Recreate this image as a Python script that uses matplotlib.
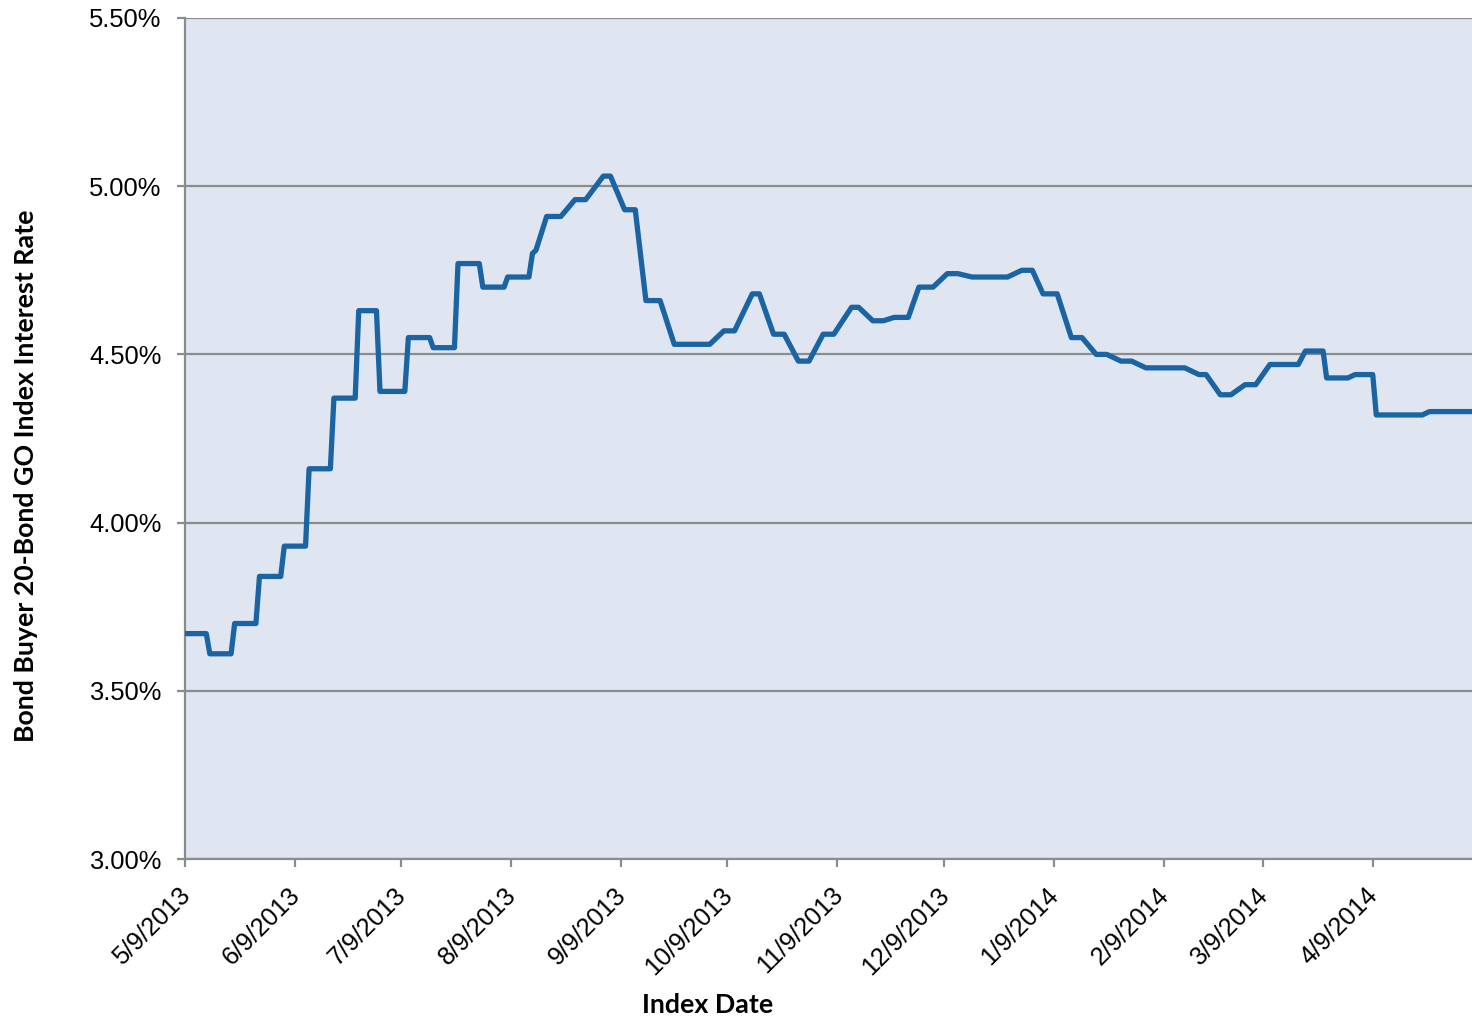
import matplotlib
matplotlib.use("Agg")
import matplotlib.pyplot as plt
import matplotlib.transforms as mtransforms
import pandas as pd

# Bond Buyer 20-Bond GO index
dates = [
    "2013-05-09", "2013-05-15", "2013-05-16", "2013-05-22", "2013-05-23", "2013-05-29",
    "2013-05-30", "2013-06-05", "2013-06-06", "2013-06-12", "2013-06-13", "2013-06-19",
    "2013-06-20", "2013-06-26", "2013-06-27", "2013-07-02", "2013-07-03", "2013-07-10",
    "2013-07-11", "2013-07-17", "2013-07-18", "2013-07-24", "2013-07-25", "2013-07-31",
    "2013-08-01", "2013-08-07", "2013-08-08", "2013-08-14", "2013-08-15", "2013-08-16",
    "2013-08-19", "2013-08-23", "2013-08-27", "2013-08-30", "2013-09-04", "2013-09-06",
    "2013-09-10", "2013-09-13", "2013-09-16", "2013-09-20", "2013-09-24", "2013-10-04",
    "2013-10-08", "2013-10-11", "2013-10-16", "2013-10-18", "2013-10-22", "2013-10-25",
    "2013-10-29", "2013-11-01", "2013-11-05", "2013-11-08", "2013-11-13", "2013-11-15",
    "2013-11-19", "2013-11-22", "2013-11-25", "2013-11-29", "2013-12-02", "2013-12-06",
    "2013-12-10", "2013-12-13", "2013-12-17", "2013-12-27", "2013-12-31", "2014-01-03",
    "2014-01-06", "2014-01-10", "2014-01-14", "2014-01-17", "2014-01-21", "2014-01-24",
    "2014-01-28", "2014-01-31", "2014-02-04", "2014-02-15", "2014-02-19", "2014-02-21",
    "2014-02-25", "2014-02-28", "2014-03-04", "2014-03-07", "2014-03-11", "2014-03-19",
    "2014-03-21", "2014-03-26", "2014-03-27", "2014-04-02", "2014-04-04", "2014-04-09",
    "2014-04-10", "2014-04-23", "2014-04-25", "2014-05-07",
]
rates = [
    3.67, 3.67, 3.61, 3.61, 3.70, 3.70,
    3.84, 3.84, 3.93, 3.93, 4.16, 4.16,
    4.37, 4.37, 4.63, 4.63, 4.39, 4.39,
    4.55, 4.55, 4.52, 4.52, 4.77, 4.77,
    4.70, 4.70, 4.73, 4.73, 4.80, 4.81,
    4.91, 4.91, 4.96, 4.96, 5.03, 5.03,
    4.93, 4.93, 4.66, 4.66, 4.53, 4.53,
    4.57, 4.57, 4.68, 4.68, 4.56, 4.56,
    4.48, 4.48, 4.56, 4.56, 4.64, 4.64,
    4.60, 4.60, 4.61, 4.61, 4.70, 4.70,
    4.74, 4.74, 4.73, 4.73, 4.75, 4.75,
    4.68, 4.68, 4.55, 4.55, 4.50, 4.50,
    4.48, 4.48, 4.46, 4.46, 4.44, 4.44,
    4.38, 4.38, 4.41, 4.41, 4.47, 4.47,
    4.51, 4.51, 4.43, 4.43, 4.44, 4.44,
    4.32, 4.32, 4.33, 4.33,
]

tick_dates = ["2013-05-09", "2013-06-09", "2013-07-09", "2013-08-09", "2013-09-09",
              "2013-10-09", "2013-11-09", "2013-12-09", "2014-01-09", "2014-02-09",
              "2014-03-09", "2014-04-09"]
tick_labels = ["5/9/2013", "6/9/2013", "7/9/2013", "8/9/2013", "9/9/2013",
               "10/9/2013", "11/9/2013", "12/9/2013", "1/9/2014", "2/9/2014",
               "3/9/2014", "4/9/2014"]
y_ticks = [3.0, 3.5, 4.0, 4.5, 5.0, 5.5]
y_labels = ["3.00%", "3.50%", "4.00%", "4.50%", "5.00%", "5.50%"]

x = pd.to_datetime(dates)

fig = plt.figure(figsize=(14.72, 10.18), dpi=100)
ax = fig.add_axes([185 / 1472, 1 - 859 / 1018, 1 - 185 / 1472, (859 - 18) / 1018])
ax.set_facecolor("#dfe6f1")

ax.plot(x, rates, color="#1a64a3", linewidth=3.8, solid_joinstyle="round",
        solid_capstyle="butt", zorder=3)

ax.set_xlim(x[0], x[-1])
ax.set_ylim(3.0, 5.5)

ax.grid(axis="y", color="#8c8c8c", linewidth=1.6, zorder=1)
ax.set_axisbelow(True)
for side in ["top", "right"]:
    ax.spines[side].set_visible(False)
for side in ["left", "bottom"]:
    ax.spines[side].set_color("#8c8c8c")
    ax.spines[side].set_linewidth(1.6)

ax.tick_params(axis="y", length=6, width=1.6, color="#8c8c8c", pad=11)
ax.tick_params(axis="x", length=6, width=1.6, color="#8c8c8c", pad=9)

ax.set_yticks(y_ticks)
ax.set_yticklabels(y_labels, fontsize=18.4, family="Liberation Sans")
ax.set_xticks(pd.to_datetime(tick_dates))
ax.set_xticklabels(tick_labels, fontsize=18.2, family="Liberation Sans",
                   rotation=45, ha="right", rotation_mode="anchor")
# nudge date labels so their ends sit just under the ticks, as in the original
shift = mtransforms.ScaledTranslation(-0.07, -0.03, fig.dpi_scale_trans)
for lab in ax.get_xticklabels():
    lab.set_transform(lab.get_transform() + shift)

fig.text(708 / 1472, 1 - 1005 / 1018, "Index Date", ha="center", va="center",
         fontsize=19.3, fontweight="bold", family="Lato")
fig.text(26 / 1472, 1 - 476 / 1018, "Bond Buyer 20-Bond GO Index Interest Rate",
         ha="center", va="center", rotation=90, fontsize=19.3, fontweight="bold",
         family="Lato")

fig.savefig("out.png", dpi=100)
